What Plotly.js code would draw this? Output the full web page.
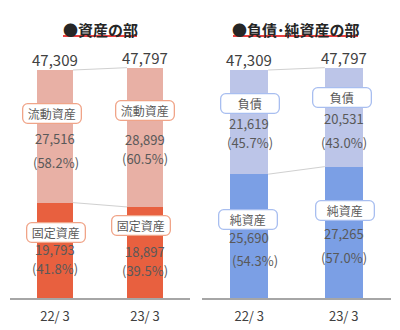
<!DOCTYPE html>
<html><head><meta charset="utf-8">
<script src="https://cdn.plot.ly/plotly-3.0.1.min.js"></script>
<style>body{margin:0;background:#fff}#c{width:400px;height:330px}</style>
</head><body><div id="c"></div>
<script>
const periods = ['22/ 3', '23/ 3'];
const totals = [47309, 47797];
const currentAssets = [27516, 28899];
const currentPct = ['58.2%', '60.5%'];
const fixedAssets = [19793, 18897];
const fixedPct = ['41.8%', '39.5%'];
const liabilities = [21619, 20531];
const liabPct = ['45.7%', '43.0%'];
const netAssets = [25690, 27265];
const netPct = ['54.3%', '57.0%'];
const titles = ['●資産の部', '●負債･純資産の部'];
const segNames = {current: '流動資産', fixed: '固定資産', liab: '負債', net: '純資産'};

const FONT = '"Noto Sans CJK JP", "Noto Sans", sans-serif';
const TXT = '#595959';
const fmt = v => v.toLocaleString('en-US');

const traces = [
  {type: 'bar', x: periods, y: fixedAssets, xaxis: 'x', yaxis: 'y', width: 0.4,
   marker: {color: '#E8603F'}, hoverinfo: 'none'},
  {type: 'bar', x: periods, y: currentAssets, xaxis: 'x', yaxis: 'y', width: 0.4,
   marker: {color: '#E8B0A5'}, hoverinfo: 'none'},
  {type: 'bar', x: periods, y: netAssets, xaxis: 'x2', yaxis: 'y2', width: 0.4,
   marker: {color: '#7B9FE5'}, hoverinfo: 'none'},
  {type: 'bar', x: periods, y: liabilities, xaxis: 'x2', yaxis: 'y2', width: 0.4,
   marker: {color: '#BCC5E8'}, hoverinfo: 'none'}
];

const annotations = [];
const shapes = [];

// totals + connectors
[['x', 'y', totals, fixedAssets], ['x2', 'y2', totals, netAssets]].forEach(([xr, yr, tot, low]) => {
  periods.forEach((p, i) => {
    annotations.push({xref: xr, yref: yr, x: i, y: tot[i], yanchor: 'bottom', yshift: -2,
      text: fmt(tot[i]), showarrow: false, font: {family: FONT, size: 15, color: '#404040'}});
  });
  shapes.push({type: 'line', xref: xr, yref: yr, x0: 0.2, x1: 0.8, y0: tot[0], y1: tot[1],
    line: {color: '#D0D0D0', width: 1}});
  shapes.push({type: 'line', xref: xr, yref: yr, x0: 0.2, x1: 0.8, y0: low[0], y1: low[1],
    line: {color: '#D0D0D0', width: 1}});
});

// segment labels: offsets per bar [box, val, pct, boxX, pctX]
const segs = [
  ['x', 'y', fixedAssets, currentAssets, currentPct, segNames.current, '#F0A488', [[23, -2, -26, -3, 1], [27, -2, -21, 0, 0]]],
  ['x', 'y', null, fixedAssets, fixedPct, segNames.fixed, '#F0A488', [[18, 1, -18, 1, 0], [27, 1, -18, -4, 0]]],
  ['x2', 'y2', netAssets, liabilities, liabPct, segNames.liab, '#A8BEF0', [[19, -1, -20, 1, 1], [20, -1, -25, -2, 0]]],
  ['x2', 'y2', null, netAssets, netPct, segNames.net, '#A8BEF0', [[17, -1, -24, -1, 6], [22, -1, -25, 1, 0]]]
];
segs.forEach(([xr, yr, base, vals, pcts, name, bc, offs]) => {
  periods.forEach((p, i) => {
    const mid = (base ? base[i] : 0) + vals[i] / 2;
    const o = offs[i];
    annotations.push({xref: xr, yref: yr, x: i, y: mid, yshift: o[0], xshift: o[3], text: name,
      showarrow: false, bgcolor: '#FFFFFF', bordercolor: bc, borderwidth: 1.3, borderpad: 2,
      width: 53, height: 14, font: {family: FONT, size: 12, color: TXT}});
    annotations.push({xref: xr, yref: yr, x: i, y: mid, yshift: o[1], text: fmt(vals[i]),
      showarrow: false, borderpad: 0, font: {family: FONT, size: 13, color: TXT}});
    annotations.push({xref: xr, yref: yr, x: i, y: mid, yshift: o[2], xshift: o[4], text: '(' + pcts[i] + ')',
      showarrow: false, borderpad: 0, font: {family: FONT, size: 13, color: TXT}});
  });
});

// titles
[[100, titles[0], 63, 137], [296, titles[1], 233, 358]].forEach(([x, t, a, b]) => {
  annotations.push({xref: 'paper', yref: 'paper', x: x / 400, xanchor: 'center', y: (298 - 30) / 298, yanchor: 'middle',
    text: '<b>' + t + '</b>', showarrow: false, font: {family: FONT, size: 15, color: '#262626'}});
  shapes.push({type: 'line', xref: 'paper', yref: 'paper', x0: a / 400, x1: b / 400,
    y0: (298 - 36) / 298, y1: (298 - 36) / 298, line: {color: '#E00000', width: 1.5}});
});

const xa = d => ({domain: d, range: [-0.5, 1.5], type: 'category', showline: true, linecolor: '#A6A6A6',
  linewidth: 1.5, ticks: '', showgrid: false, zeroline: false, fixedrange: true, ticklabelstandoff: 6,
  tickfont: {family: FONT, size: 13, color: '#404040'}});
const ya = () => ({range: [0, 61840], visible: false, showgrid: false, zeroline: false, fixedrange: true});

const layout = {
  width: 400, height: 330, margin: {l: 0, r: 0, t: 0, b: 32},
  paper_bgcolor: '#FFFFFF', plot_bgcolor: '#FFFFFF', showlegend: false, barmode: 'stack',
  xaxis: Object.assign(xa([0.025, 0.475]), {anchor: 'y'}),
  yaxis: Object.assign(ya(), {anchor: 'x'}),
  xaxis2: Object.assign(xa([0.505, 0.9775]), {anchor: 'y2'}),
  yaxis2: Object.assign(ya(), {anchor: 'x2'}),
  annotations: annotations, shapes: shapes
};

Plotly.newPlot('c', traces, layout, {displayModeBar: false, staticPlot: true}).then(() => {
  document.querySelectorAll('.annotation-text-g rect.bg').forEach(r => {
    r.setAttribute('rx', 5); r.setAttribute('ry', 5);
  });
});
</script>
</body></html>
